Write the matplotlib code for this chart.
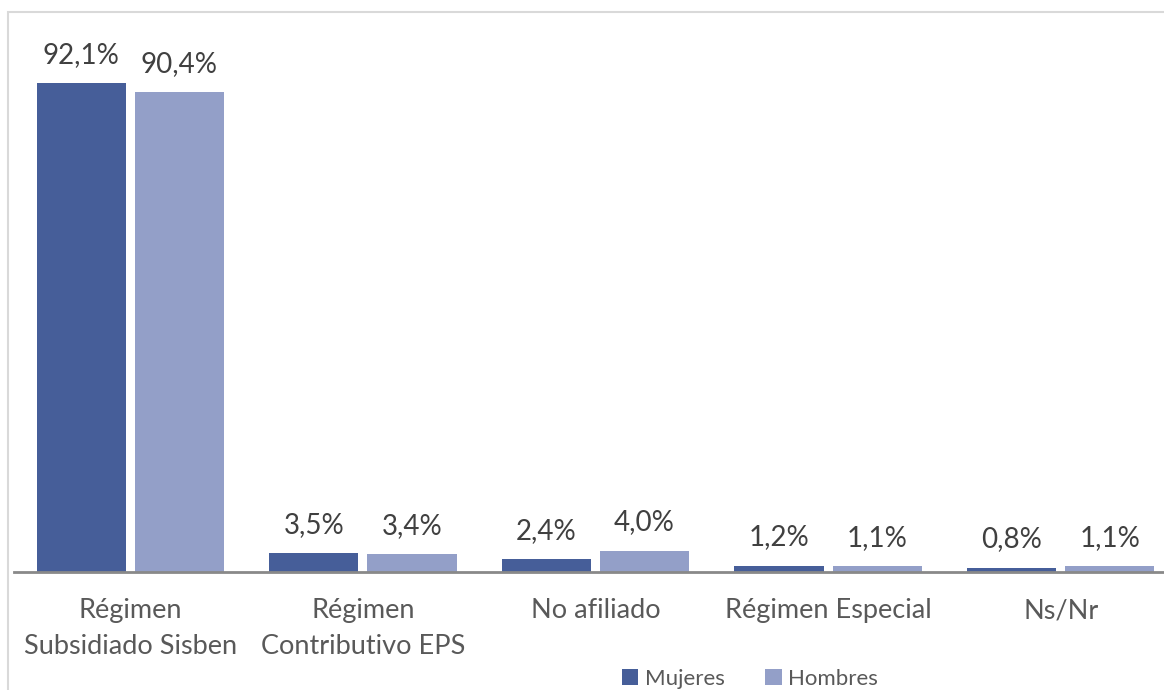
import matplotlib
matplotlib.use("Agg")
import matplotlib.pyplot as plt
import numpy as np
from matplotlib.patches import Rectangle

categories = ["Régimen\nSubsidiado Sisben", "Régimen\nContributivo EPS", "No afiliado",
              "Régimen Especial", "Ns/Nr"]
mujeres = [92.1, 3.5, 2.4, 1.2, 0.8]
hombres = [90.4, 3.4, 4.0, 1.1, 1.1]
series_names = ["Mujeres", "Hombres"]
colors = ["#465E99", "#939FC8"]

plt.rcParams['font.family'] = ['Lato', 'DejaVu Sans']
W, H = 1164, 690
fig = plt.figure(figsize=(W / 100, H / 100), dpi=100)

# outer border
fig.patches.append(Rectangle((8 / W, -0.1), 1.2, (H - 12) / H + 0.1, transform=fig.transFigure,
                             fill=False, edgecolor="#D9D9D9", linewidth=1.5))

ax = fig.add_axes([14 / W, 118 / H, 1163 / W, 531 / H])
x = np.arange(len(categories))
bw = 0.383
off = 0.211
text_color = "#404040"
for vals, name, c, d in [(mujeres, series_names[0], colors[0], -off),
                         (hombres, series_names[1], colors[1], off)]:
    bars = ax.bar(x + d, vals, bw, color=c, label=name)
    for b, v in zip(bars, vals):
        ax.annotate(f"{v:.1f}%".replace(".", ","), (b.get_x() + b.get_width() / 2, v),
                    xytext=(0, 11), textcoords="offset points", ha="center", va="bottom",
                    fontsize=20, color=text_color)

ax.set_xlim(-0.5, len(categories) - 0.5)
ax.set_ylim(0, 100)
ax.set_yticks([])
ax.set_xticks(x)
ax.set_xticklabels(categories, fontsize=19.5, color="#595959", linespacing=1.55)
ax.tick_params(axis="x", length=0, pad=19)
for s in ["top", "right", "left"]:
    ax.spines[s].set_visible(False)
ax.spines["bottom"].set_color("#898989")
ax.spines["bottom"].set_linewidth(2)

leg = fig.legend(loc="center", bbox_to_anchor=(750 / W, (H - 679) / H), ncol=2,
                 frameon=False, fontsize=16, handlelength=0.75, handleheight=0.75,
                 handletextpad=0.3, columnspacing=1.8, labelcolor="#595959")

fig.savefig("out.png", dpi=100)
